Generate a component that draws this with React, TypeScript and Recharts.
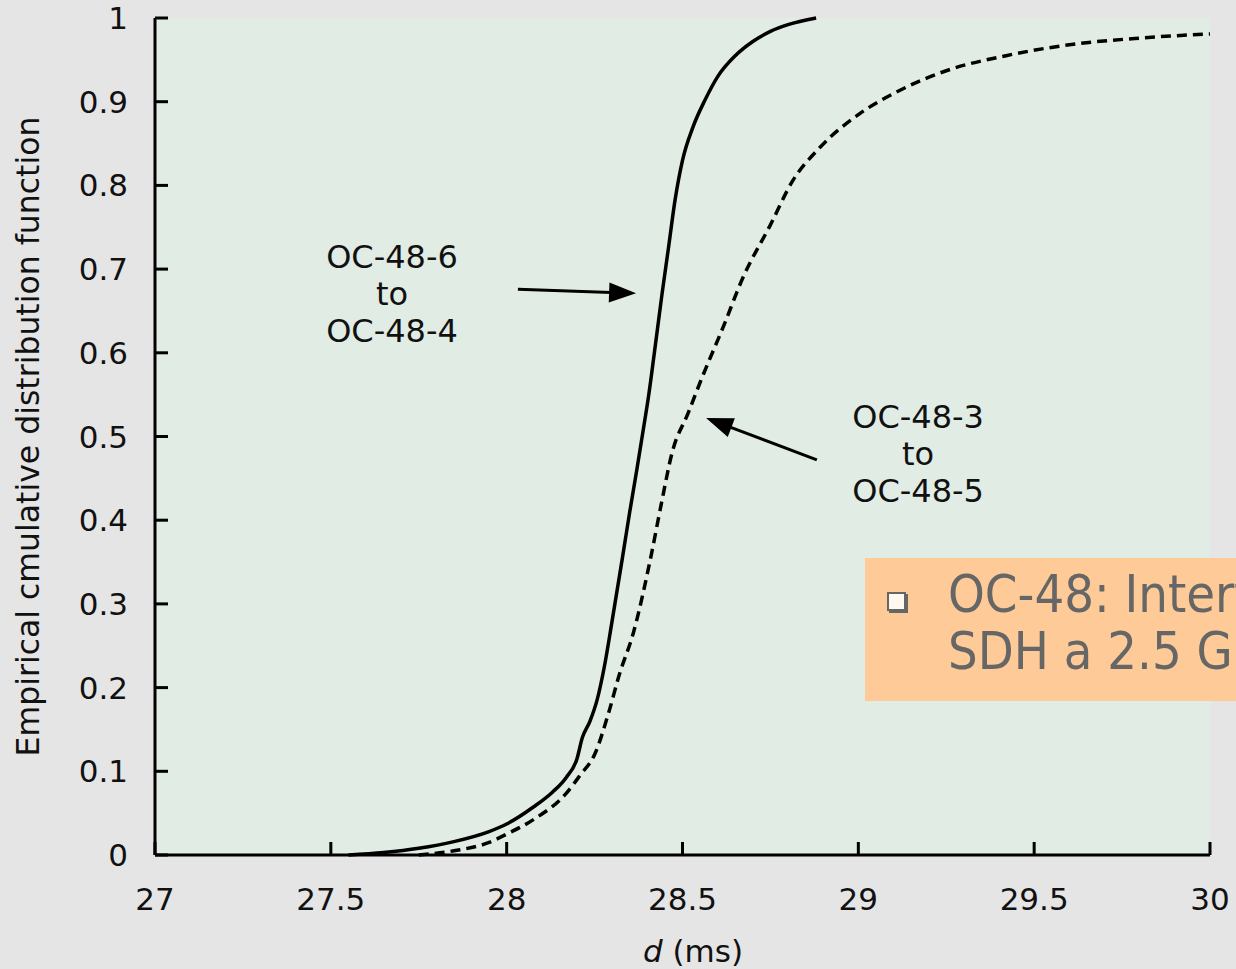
import React from 'react';
import {
  LineChart,
  Line,
  XAxis,
  YAxis,
  ReferenceLine,
  ReferenceDot,
} from 'recharts';

const solidX = [27.55, 27.65, 27.75, 27.85, 27.95, 28.0, 28.075, 28.13, 28.17, 28.2, 28.215, 28.237, 28.257, 28.28, 28.3, 28.328, 28.35, 28.37, 28.393, 28.402, 28.42, 28.442, 28.46, 28.479, 28.5, 28.53, 28.564, 28.6, 28.65, 28.7, 28.75, 28.8, 28.88];
const solidY = [0, 0.003, 0.008, 0.016, 0.028, 0.037, 0.057, 0.075, 0.093, 0.115, 0.14, 0.16, 0.185, 0.23, 0.28, 0.352, 0.41, 0.46, 0.52, 0.544, 0.6, 0.671, 0.725, 0.783, 0.83, 0.87, 0.902, 0.93, 0.955, 0.972, 0.984, 0.992, 1.0];

const dashedX = [27.75, 27.85, 27.95, 28.0, 28.075, 28.17, 28.21, 28.25, 28.29, 28.32, 28.36, 28.408, 28.44, 28.47, 28.516, 28.56, 28.615, 28.672, 28.749, 28.814, 28.89, 29.005, 29.12, 29.25, 29.42, 29.6, 29.8, 30.0];
const dashedY = [0, 0.005, 0.015, 0.025, 0.042, 0.074, 0.096, 0.12, 0.17, 0.215, 0.265, 0.352, 0.42, 0.48, 0.528, 0.575, 0.63, 0.69, 0.752, 0.806, 0.845, 0.886, 0.914, 0.937, 0.955, 0.968, 0.976, 0.981];

const xTicks = [27, 27.5, 28, 28.5, 29, 29.5, 30];
const yTicks = [0, 0.1, 0.2, 0.3, 0.4, 0.5, 0.6, 0.7, 0.8, 0.9, 1];

const solidData = solidX.map((x, i) => ({ x, y: solidY[i] }));
const dashedData = dashedX.map((x, i) => ({ x, y: dashedY[i] }));

const FONT = "'DejaVu Sans', sans-serif";
const TICK_LEN = 13;
const X_MARGIN = 33;
const Y_MARGIN = 27;

const Arrow = (props: any) => {
  const { x1, y1, x2, y2 } = props;
  const dx = x2 - x1;
  const dy = y2 - y1;
  const len = Math.sqrt(dx * dx + dy * dy);
  const ux = dx / len;
  const uy = dy / len;
  const headLen = 27;
  const half = 10;
  const bx = x2 - ux * headLen;
  const by = y2 - uy * headLen;
  const pts = `${x2},${y2} ${bx - uy * half},${by + ux * half} ${bx + uy * half},${by - ux * half}`;
  return (
    <g>
      <line x1={x1} y1={y1} x2={bx + ux * 2} y2={by + uy * 2} stroke="#000" strokeWidth={3} />
      <polygon points={pts} fill="#000" />
    </g>
  );
};

const labelBlock = (lines: string[], step: number) => (props: any) => (
  <text x={props.cx} y={props.cy} textAnchor="middle" fontFamily={FONT} fontSize={32} fill="#111">
    {lines.map((l, i) => (
      <tspan key={i} x={props.cx} dy={i === 0 ? 0 : step}>
        {l}
      </tspan>
    ))}
  </text>
);

// inward ticks: lines drawn by hand from the tick position, labels outside
const BottomTick = (p: any) => {
  const axisY = p.y - X_MARGIN;
  return (
    <g>
      <line x1={p.x} y1={axisY} x2={p.x} y2={axisY - TICK_LEN} stroke="#000" strokeWidth={3} />
      <text x={p.x} y={axisY + 55} textAnchor="middle" fontFamily={FONT} fontSize={31} fill="#111">
        {p.payload.value}
      </text>
    </g>
  );
};

const LeftTick = (p: any) => {
  const axisX = p.x + Y_MARGIN;
  return (
    <g>
      <line x1={axisX} y1={p.y} x2={axisX + TICK_LEN} y2={p.y} stroke="#000" strokeWidth={3} />
      <text x={p.x} y={p.y + 11} textAnchor="end" fontFamily={FONT} fontSize={31} fill="#111">
        {p.payload.value}
      </text>
    </g>
  );
};

const TopTick = (p: any) => (
  <line x1={p.x} y1={p.y} x2={p.x} y2={p.y + TICK_LEN} stroke="#000" strokeWidth={3} />
);

const RightTick = (p: any) => (
  <line x1={p.x} y1={p.y} x2={p.x - TICK_LEN} y2={p.y} stroke="#000" strokeWidth={3} />
);

export default function App() {
  return (
    <div
      style={{
        position: 'absolute',
        left: 0,
        top: 0,
        width: 1236,
        height: 969,
        overflow: 'hidden',
        background: '#e5e5e5',
      }}
    >
      {/* plot background sits behind the svg */}
      <div
        style={{
          position: 'absolute',
          left: 155,
          top: 18,
          width: 1055,
          height: 837,
          background: '#e1ece4',
        }}
      />
      <div style={{ position: 'absolute', left: 0, top: 0 }}>
        <LineChart width={1236} height={969} margin={{ top: 18, right: 26, left: 75, bottom: 54 }}>
          <Line
            data={solidData}
            dataKey="y"
            type="monotone"
            stroke="#000"
            strokeWidth={3.5}
            dot={false}
            isAnimationActive={false}
          />
          <Line
            data={dashedData}
            dataKey="y"
            type="monotone"
            stroke="#000"
            strokeWidth={3.5}
            strokeDasharray="10 6"
            dot={false}
            isAnimationActive={false}
          />
          <XAxis
            type="number"
            dataKey="x"
            domain={[27, 30]}
            ticks={xTicks}
            interval={0}
            allowDataOverflow
            height={60}
            tickSize={0}
            tickMargin={X_MARGIN}
            tickLine={false}
            axisLine={{ stroke: '#000', strokeWidth: 3 }}
            tick={BottomTick}
            label={{
              content: (p: any) => (
                <text x={693} y={p.viewBox.y + 107} textAnchor="middle" fontFamily={FONT} fontSize={31} fill="#111">
                  <tspan fontStyle="italic">d</tspan> (ms)
                </text>
              ),
            }}
          />
          <XAxis
            xAxisId="top"
            orientation="top"
            type="number"
            domain={[27, 30]}
            ticks={xTicks}
            interval={0}
            height={0}
            tickSize={0}
            tickMargin={0}
            tickLine={false}
            tick={TopTick}
            axisLine={{ stroke: '#000', strokeWidth: 3 }}
          />
          <YAxis
            type="number"
            domain={[0, 1]}
            ticks={yTicks}
            interval={0}
            width={80}
            tickSize={0}
            tickMargin={Y_MARGIN}
            tickLine={false}
            tick={LeftTick}
            axisLine={{ stroke: '#000', strokeWidth: 3 }}
            label={{
              content: (p: any) => {
                const cx = p.viewBox.x - 47;
                const cy = p.viewBox.y + p.viewBox.height / 2;
                return (
                  <text
                    x={cx}
                    y={cy}
                    transform={`rotate(-90 ${cx} ${cy})`}
                    textAnchor="middle"
                    dominantBaseline="central"
                    fontFamily={FONT}
                    fontSize={31.5}
                    fill="#111"
                  >
                    Empirical cmulative distribution function
                  </text>
                );
              },
            }}
          />
          <YAxis
            yAxisId="right"
            orientation="right"
            type="number"
            domain={[0, 1]}
            ticks={yTicks}
            interval={0}
            width={0}
            tickSize={0}
            tickMargin={0}
            tickLine={false}
            tick={RightTick}
            axisLine={{ stroke: '#000', strokeWidth: 3 }}
          />
          <ReferenceLine
            segment={[
              { x: 28.032, y: 0.676 },
              { x: 28.368, y: 0.671 },
            ]}
            shape={Arrow}
          />
          <ReferenceLine
            segment={[
              { x: 28.882, y: 0.472 },
              { x: 28.567, y: 0.522 },
            ]}
            shape={Arrow}
          />
          <ReferenceDot x={27.674} y={0.701} r={1} shape={labelBlock(['OC-48-6', 'to', 'OC-48-4'], 37)} />
          <ReferenceDot x={29.17} y={0.51} r={1} shape={labelBlock(['OC-48-3', 'to', 'OC-48-5'], 37)} />
        </LineChart>
      </div>
      <div
        style={{
          position: 'absolute',
          left: 865,
          top: 558,
          width: 420,
          height: 143,
          background: '#fecb98',
          fontFamily: "'DejaVu Sans Condensed', 'DejaVu Sans', sans-serif",
          fontStretch: 'condensed',
          fontSize: 52,
          lineHeight: '57px',
          color: '#666',
        }}
      >
        <div
          style={{
            position: 'absolute',
            left: 22,
            top: 34,
            width: 15,
            height: 15,
            border: '2px solid #666',
            boxShadow: '2px 2px 0 #666',
            background: '#fff8ee',
          }}
        />
        <div style={{ position: 'absolute', left: 83, top: 8, whiteSpace: 'nowrap' }}>
          OC-48: Interfaz
          <br />
          SDH a 2.5 Gbps
        </div>
      </div>
    </div>
  );
}
